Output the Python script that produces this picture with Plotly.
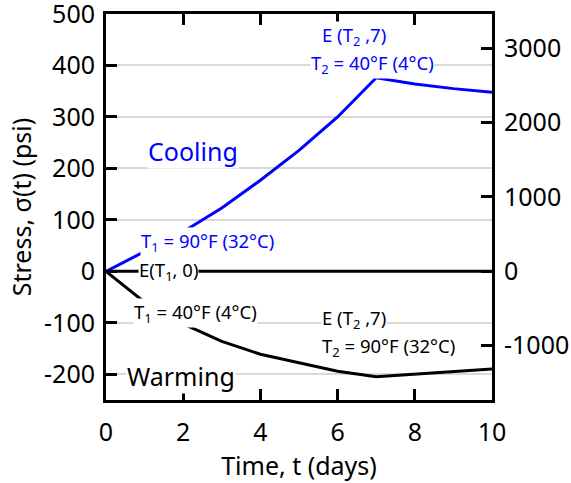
import plotly.graph_objects as go

# Data
days = [0, 1, 2, 3, 4, 5, 6, 7, 8, 9, 10]
cooling_stress = [0, 39, 77, 123, 177, 235, 300, 376, 364, 355, 348]
warming_stress = [0, -60, -102, -136, -161, -178, -194, -205, -200, -195, -190]
baseline_days = [0, 10]
baseline_stress = [0, 0]

x_ticks = [0, 2, 4, 6, 8, 10]
left_ticks = [-200, -100, 0, 100, 200, 300, 400, 500]
left_labels = ["-200", "-100", "0", "100", "200", "300", "400", "500"]
right_ticks = [-1000, 0, 1000, 2000, 3000]
right_labels = ["-1000", "0", "1000", "2000", "3000"]

FONT = "Noto Sans"
BLUE = "#0000FF"

fig = go.Figure()
fig.add_trace(go.Scatter(x=baseline_days, y=baseline_stress, mode="lines",
                         line=dict(color="black", width=3), showlegend=False))
fig.add_trace(go.Scatter(x=days, y=warming_stress, mode="lines",
                         line=dict(color="black", width=3), showlegend=False))
fig.add_trace(go.Scatter(x=days, y=cooling_stress, mode="lines",
                         line=dict(color=BLUE, width=3), showlegend=False))
# invisible trace to activate right axis
fig.add_trace(go.Scatter(x=[0], y=[0], yaxis="y2", mode="markers",
                         marker=dict(opacity=0), showlegend=False, hoverinfo="skip"))

def ann(x, y, text, color="black", size=18.5):
    fig.add_annotation(x=x, y=y, text=text, showarrow=False, xref="x", yref="y",
                       font=dict(family=FONT, size=size, color=color),
                       bgcolor="white", borderpad=0, xanchor="center", yanchor="middle")

ann(2.25, 234, "Cooling", BLUE, 25)
ann(1.94, -203, "Warming", "black", 25)
ann(1.62, 0, "E(T<sub>1</sub>, 0)", "black", 18.5)
ann(2.32, -80, "T<sub>1</sub> = 40°F (4°C)", "black", 18.5)
ann(2.64, 57, "T<sub>1</sub> = 90°F (32°C)", BLUE, 18.5)
ann(6.43, 458, "E (T<sub>2</sub> ,7)", BLUE, 18.5)
ann(6.91, 402, "T<sub>2</sub> = 40°F (4°C)", BLUE, 18.5)
ann(6.43, -92, "E (T<sub>2</sub> ,7)", "black", 18.5)
ann(7.31, -147, "T<sub>2</sub> = 90°F (32°C)", "black", 18.5)

axis_common = dict(showline=True, linecolor="black", linewidth=3, automargin=False,
                   ticks="inside", ticklen=11, tickwidth=3, tickcolor="black",
                   ticklabeloverflow="allow",
                   tickfont=dict(family=FONT, size=25, color="black"))

fig.update_layout(
    width=571, height=483,
    margin=dict(l=106, r=79, t=14, b=83),
    plot_bgcolor="white", paper_bgcolor="white",
    font=dict(family=FONT, color="black"),
    xaxis=dict(range=[0, 10], tickvals=x_ticks, mirror="ticks", showgrid=False,
               zeroline=False, ticklabelstandoff=8,
               title=dict(text="Time, t (days)", font=dict(family=FONT, size=25), standoff=6),
               **axis_common),
    yaxis=dict(range=[-250, 500.01], tickvals=left_ticks, ticktext=left_labels,
               showgrid=True, gridcolor="#d9d9d9", gridwidth=1.5, zeroline=False,
               ticklabelstandoff=3,
               title=dict(text="Stress, σ(t) (psi)", font=dict(family=FONT, size=25), standoff=6),
               **axis_common),
    yaxis2=dict(range=[-1730, 3460], tickvals=right_ticks, ticktext=right_labels,
                overlaying="y", side="right", ticklabelstandoff=4,
                showgrid=False, zeroline=False, **axis_common),
)

fig.write_html("out.html")
